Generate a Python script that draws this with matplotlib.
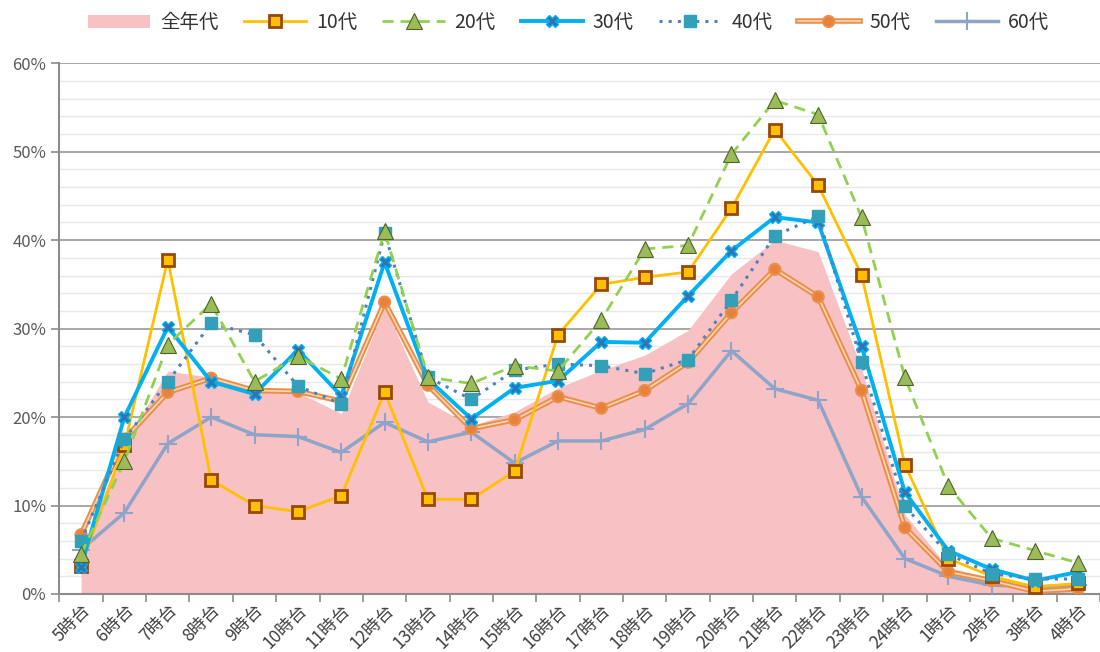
import numpy as np
import matplotlib
matplotlib.use('Agg')
import matplotlib.pyplot as plt
import matplotlib.patheffects as pe
from matplotlib.ticker import MultipleLocator, FuncFormatter

plt.rcParams['font.family'] = ['Noto Sans CJK JP', 'DejaVu Sans']

# categories: hour of day
hours = ['5時台', '6時台', '7時台', '8時台', '9時台', '10時台', '11時台', '12時台',
         '13時台', '14時台', '15時台', '16時台', '17時台', '18時台', '19時台', '20時台',
         '21時台', '22時台', '23時台', '24時台', '1時台', '2時台', '3時台', '4時台']

# values in %
all_ages = [5.0, 17.0, 25.2, 24.5, 23.0, 22.8, 20.4, 32.5, 21.7, 19.0, 20.6, 23.3,
            25.3, 27.0, 29.8, 36.2, 40.0, 38.7, 25.5, 9.0, 3.0, 1.8, 1.0, 1.2]
age10 = [3.2, 16.8, 37.8, 12.9, 10.0, 9.3, 11.1, 22.8, 10.7, 10.7, 13.9, 29.3,
         35.0, 35.8, 36.4, 43.6, 52.5, 46.2, 36.1, 14.6, 4.0, 2.0, 0.8, 1.2]
age20 = [4.5, 15.0, 28.2, 32.8, 24.0, 26.9, 24.3, 41.0, 24.5, 23.8, 25.8, 25.2,
         31.0, 39.0, 39.4, 49.7, 55.8, 54.2, 42.6, 24.5, 12.2, 6.3, 4.9, 3.5]
age30 = [3.1, 20.0, 30.2, 24.0, 22.6, 27.6, 22.4, 37.5, 24.3, 19.8, 23.3, 24.1,
         28.5, 28.4, 33.7, 38.8, 42.6, 42.0, 28.0, 11.5, 4.9, 2.8, 1.5, 2.5]
age40 = [6.0, 17.5, 24.0, 30.6, 29.3, 23.5, 21.5, 40.8, 24.5, 22.0, 25.3, 26.0,
         25.8, 24.9, 26.5, 33.2, 40.5, 42.7, 26.2, 9.9, 4.5, 2.3, 1.7, 1.7]
age50 = [6.7, 17.5, 22.8, 24.4, 23.0, 22.9, 21.8, 33.0, 23.6, 18.7, 19.7, 22.3,
         21.0, 23.0, 26.2, 31.8, 36.7, 33.6, 23.0, 7.5, 2.5, 1.5, 0.3, 0.6]
age60 = [5.0, 9.2, 17.0, 20.0, 18.0, 17.8, 16.0, 19.4, 17.2, 18.3, 14.8, 17.3,
         17.3, 18.6, 21.5, 27.5, 23.2, 21.9, 11.0, 4.0, 2.0, 1.0, 0.8, 1.0]

x = np.arange(len(hours))

fig = plt.figure(figsize=(11, 6.52), dpi=100)
ax = fig.add_axes([0.054, 0.089, 0.946, 0.814])

# pink area for all ages
ax.fill_between(x, 0, all_ages, color='#F8C1C4', lw=0, zorder=2, label='全年代')

ax.plot(x, age10, color='#FFC000', lw=2, marker='s', ms=9,
        mfc='#FFC000', mec='#984807', mew=2, zorder=5, label='10代')
ax.plot(x, age20, color='#92D050', lw=2, ls=(0, (4, 2.5)), marker='^', ms=11,
        mfc='#9BBB59', mec='#4F6228', mew=0.8, zorder=6, label='20代')
ax.plot(x, age30, color='#00B0F0', lw=2.8, marker='X', ms=9,
        mfc='#2E75B6', mec='#00B0F0', mew=1, zorder=5, label='30代')
ax.plot(x, age40, color='#4F81BD', lw=2.2, ls=(0, (1, 2)), marker='s', ms=8,
        mfc='#31A0B8', mec='#31A0B8', zorder=5, label='40代')
ax.plot(x, age50, color='#FBD5B5', lw=1.2, marker='o', ms=5.5,
        mfc='#E8823A', mec='#E8823A', zorder=4, label='50代',
        path_effects=[pe.Stroke(linewidth=4, foreground='#E8904A'), pe.Normal()])
ax.plot(x, age60, color='#8EA4C8', lw=2.5, marker='+', ms=13, mew=1.5,
        mec='#8EA4C8', zorder=3, label='60代')

ax.set_xlim(-0.5, len(hours) - 0.5)
ax.set_ylim(0, 60)
ax.yaxis.set_major_locator(MultipleLocator(10))
ax.yaxis.set_minor_locator(MultipleLocator(2))
ax.yaxis.set_major_formatter(FuncFormatter(lambda v, p: '%d%%' % v))
ax.grid(axis='y', which='major', color='#9A9A9A', lw=1.2, zorder=1)
ax.grid(axis='y', which='minor', color='#E8E8E8', lw=1, zorder=1)
ax.set_axisbelow(True)

ax.set_xticks(x)
ax.set_xticklabels(hours, rotation=45, ha='right', rotation_mode='anchor', fontsize=12.5)
ax.set_xticks(np.arange(-0.5, len(hours), 1), minor=True)
ax.tick_params(axis='x', which='major', length=0, pad=5, colors='#404040')
ax.tick_params(axis='x', which='minor', length=6, color='#8C8C8C', width=1.2)
ax.tick_params(axis='y', which='major', length=6, color='#8C8C8C', width=1.2,
               labelsize=12, labelcolor='#595959')
ax.tick_params(axis='y', which='minor', length=0)

for s in ['top', 'right']:
    ax.spines[s].set_visible(False)
for s in ['left', 'bottom']:
    ax.spines[s].set_color('#8C8C8C')
    ax.spines[s].set_linewidth(1.5)

handles, labels = ax.get_legend_handles_labels()
fig.legend(handles, labels, loc='upper center', bbox_to_anchor=(0.517, 1.008), ncol=7,
           frameon=False, fontsize=14, handlelength=3.2, columnspacing=1.3,
           handletextpad=0.5, labelcolor='#333333')

fig.savefig('out.png', dpi=100)
